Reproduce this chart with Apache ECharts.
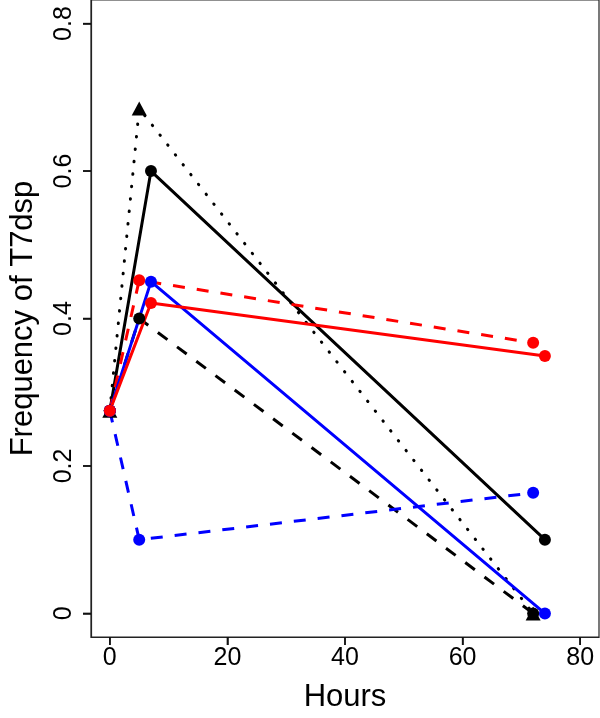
<!DOCTYPE html>
<html>
<head>
<meta charset="utf-8">
<script src="https://cdn.jsdelivr.net/npm/echarts@6/dist/echarts.min.js"></script>
<style>
html,body{margin:0;padding:0;background:#fff;}
#chart{width:600px;height:718px;}
</style>
</head>
<body>
<div id="chart"></div>
<script>
// Data
const hoursA = [0, 5, 72];
const hoursB = [0, 7, 74];
const blackDotted = [0.275, 0.685, 0];
const blackSolid = [0.275, 0.6, 0.1];
const blackDashed = [0.275, 0.4, 0];
const redDashed = [0.275, 0.452, 0.367];
const redSolid = [0.275, 0.421, 0.349];
const blueSolid = [0.275, 0.45, 0];
const blueDashed = [0.275, 0.1, 0.1635];
const xTicks = [0, 20, 40, 60, 80];
const yTicks = [0, 0.2, 0.4, 0.6, 0.8];
const yTickLabels = ['0', '0.2', '0.4', '0.6', '0.8'];
const X_MIN = -3.2, X_MAX = 83.2, Y_MIN = -0.032, Y_MAX = 0.832;

const FONT = "'Liberation Sans', Arial, Helvetica, sans-serif";

function pts(xs, ys) { return xs.map((x, i) => [x, ys[i]]); }

function mk(name, xs, ys, color, type, symbol) {
  const isTri = symbol === 'triangle';
  return {
    name: name,
    type: 'line',
    data: pts(xs, ys),
    symbol: symbol,
    symbolSize: isTri ? [15, 14] : 12,
    showSymbol: true,
    animation: false,
    itemStyle: { color: color, borderWidth: 0 },
    lineStyle: { color: color, width: 3, type: type, cap: 'butt' },
    emphasis: { disabled: true },
    z: 2
  };
}

// Tick marks drawn as a custom series through the axes' own scales
function tickSeries(data, horizontal) {
  return {
    type: 'custom',
    silent: true,
    clip: false,
    animation: false,
    z: 10,
    data: data,
    encode: { x: 0, y: 1 },
    renderItem: function (params, api) {
      const p = api.coord([api.value(0), api.value(1)]);
      const L = 8;
      const shape = horizontal
        ? { x1: p[0], y1: p[1], x2: p[0] - L, y2: p[1] }
        : { x1: p[0], y1: p[1], x2: p[0], y2: p[1] + L };
      return { type: 'line', shape: shape, style: { stroke: '#111', lineWidth: 1.5 } };
    }
  };
}

const dotPattern = [0.5, 12];
const dashPattern = [12, 12];

const chart = echarts.init(document.getElementById('chart'), null, { renderer: 'canvas' });
const s1 = mk('blackDashed', hoursA, blackDashed, '#000000', dashPattern, 'circle');
const s2 = mk('blackSolid', hoursB, blackSolid, '#000000', 'solid', 'circle');
const s3 = mk('blackDotted', hoursA, blackDotted, '#000000', dotPattern, 'triangle');
s3.lineStyle.cap = 'round';
const s4 = mk('redDashed', hoursA, redDashed, '#ff0000', dashPattern, 'circle');
const s5 = mk('blueDashed', hoursA, blueDashed, '#0000ff', dashPattern, 'circle');
const s6 = mk('blueSolid', hoursB, blueSolid, '#0000ff', 'solid', 'circle');
const s7 = mk('redSolid', hoursB, redSolid, '#ff0000', 'solid', 'circle');
const xTickSeries = tickSeries(xTicks.map(v => [v, Y_MIN]), false);
const yTickSeries = tickSeries(yTicks.map(v => [X_MIN, v]), true);

chart.setOption({
  backgroundColor: '#ffffff',
  animation: false,
  textStyle: { fontFamily: FONT },
  grid: {
    left: 82, top: 0, width: 517, height: 648,
    show: true, borderColor: '#222222', borderWidth: 1.2, backgroundColor: 'transparent'
  },
  xAxis: {
    type: 'value',
    position: 'bottom',
    min: X_MIN, max: X_MAX,
    name: 'Hours',
    nameLocation: 'middle',
    nameGap: 45,
    nameTextStyle: { fontSize: 31, color: '#000', fontFamily: FONT },
    axisLine: { show: true, onZero: false, lineStyle: { color: '#222', width: 1.2 } },
    splitLine: { show: false },
    axisTick: { show: true, inside: false, length: 8, customValues: xTicks, lineStyle: { color: '#111', width: 1.5 } },
    axisLabel: { show: true, customValues: xTicks, fontSize: 25, color: '#000', margin: 9, fontFamily: FONT }
  },
  yAxis: {
    type: 'value',
    position: 'left',
    min: Y_MIN, max: Y_MAX,
    name: 'Frequency of T7dsp',
    nameLocation: 'middle',
    nameGap: 52,
    nameTextStyle: { fontSize: 31, color: '#000', fontFamily: FONT },
    axisLine: { show: true, onZero: false, lineStyle: { color: '#222', width: 1.2 } },
    splitLine: { show: false },
    axisTick: { show: true, inside: false, length: 8, customValues: yTicks, lineStyle: { color: '#111', width: 1.5 } },
    axisLabel: {
      show: true, customValues: yTicks, rotate: 90, fontSize: 25, color: '#000', margin: 14, fontFamily: FONT,
      formatter: function (v) {
        const i = yTicks.findIndex(t => Math.abs(t - v) < 1e-9);
        return i >= 0 ? yTickLabels[i] : '';
      }
    }
  },
  series: [s1, s2, s3, s4, s5, s6, s7, xTickSeries, yTickSeries]
});
</script>
</body>
</html>
